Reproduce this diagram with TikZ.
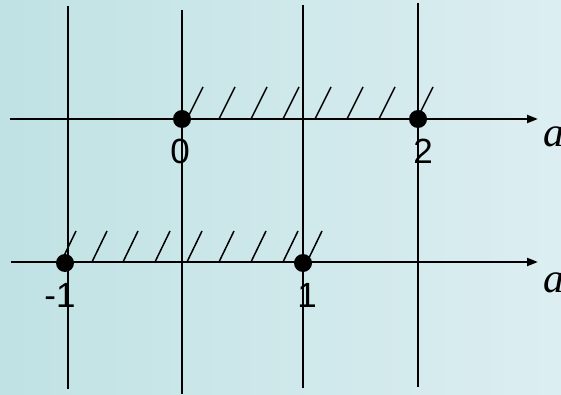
\documentclass[tikz,border=0pt]{standalone}
\usepackage{fontspec}
\setmainfont{Liberation Sans}
\newfontfamily\varfont{Liberation Serif}
\usetikzlibrary{arrows.meta,positioning}
\definecolor{bgleft}{RGB}{192,226,228}
\definecolor{bgright}{RGB}{220,238,241}

\begin{document}
\begin{tikzpicture}[x=1pt, y=-1pt,
    axis/.style={line width=2.2pt, -{Triangle[length=11pt,width=8pt]}},
    gridline/.style={line width=2.2pt},
    hatch/.style={line width=1.5pt},
    dot/.style={circle, fill=black, inner sep=0pt, minimum size=18pt},
    num/.style={font=\fontsize{35}{37}\selectfont, inner sep=0pt},
    var/.style={font=\varfont\itshape\fontsize{42}{44}\selectfont, inner sep=0pt, anchor=base west}
]
\shade[left color=bgleft, right color=bgright] (0,0) rectangle (561,395);
\useasboundingbox (0,0) rectangle (561,395);

% vertical lines
\foreach \x/\t/\b in {68/6/389, 182/10/394, 303/5/388, 418/3/387}
    \draw[gridline] (\x,\t) -- (\x,\b);

% hatching
\foreach \x in {187,219,251,283,315,347,379,417}
    \draw[hatch] (\x,119) -- ++(16,-32);
\foreach \x in {61,92,123,155,187,219,251,283,307}
    \draw[hatch] (\x,262) -- ++(15,-31);

% axes
\coordinate (up-start) at (10,119);
\coordinate (up-end) at (538,119);
\coordinate (low-start) at (11,262);
\coordinate (low-end) at (538,262);
\draw[axis] (up-start) -- (up-end);
\draw[axis] (low-start) -- (low-end);

% points
\node[dot] (d0) at (182,119) {};
\node[dot] (d2) at (418,119) {};
\node[dot] (dm1) at (65,263) {};
\node[dot] (d1) at (303,263) {};

\node[num, below=11pt of d0, xshift=-2pt] (l0) {0};
\node[num, below=11pt of d2, xshift=5pt] (l2) {2};
\node[num, below=11pt of dm1, xshift=-5pt] (lm1) {-1};
\node[num, below=11pt of d1, xshift=4pt] (l1) {1};

\node[var] (a1) at (543,147) {a};
\node[var] (a2) at (543,292) {a};
\end{tikzpicture}
\end{document}
